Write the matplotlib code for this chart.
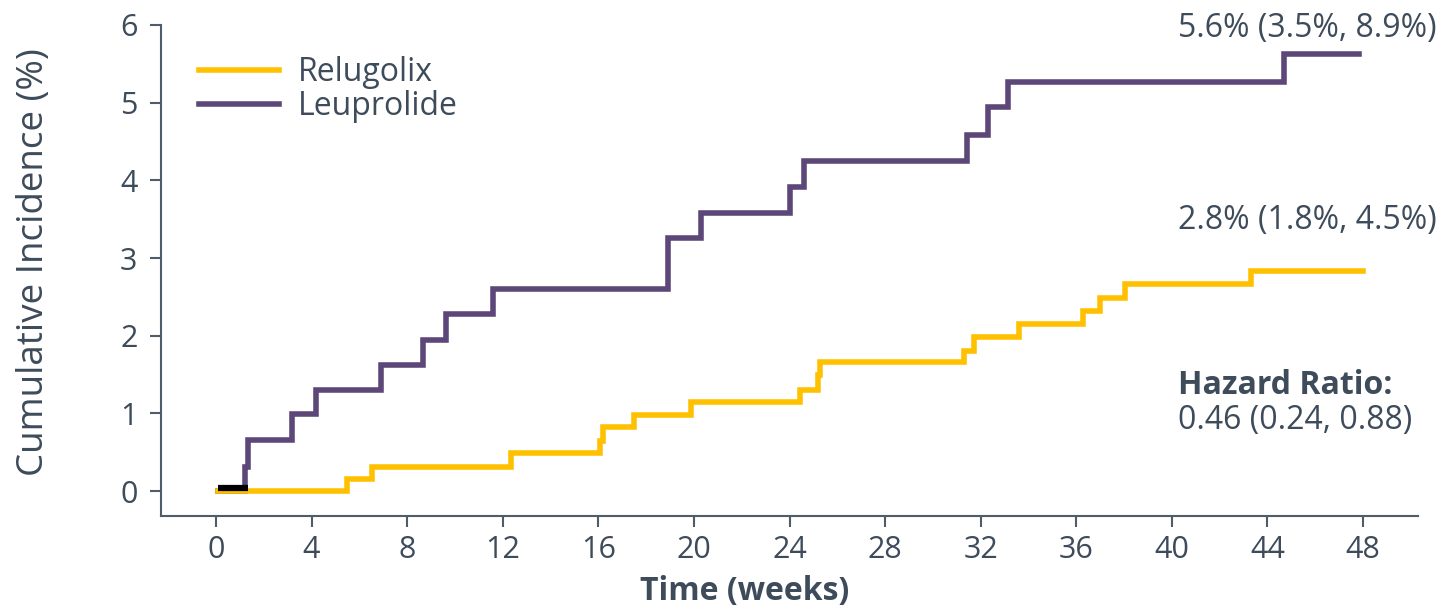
import matplotlib
matplotlib.use("Agg")
import matplotlib.pyplot as plt

plt.rcParams['font.family'] = ['Open Sans', 'DejaVu Sans']

# Data (weeks, cumulative incidence %)
leu_times = [0.1, 1.23, 1.35, 3.19, 4.19, 6.9, 8.65, 9.62, 11.59, 18.91, 20.31,
             24.01, 24.6, 31.43, 32.3, 33.14, 44.7, 47.84]
leu_values = [0, 0.31, 0.66, 0.99, 1.30, 1.62, 1.95, 2.28, 2.60, 3.26, 3.58,
              3.92, 4.25, 4.58, 4.94, 5.27, 5.63, 5.63]
rel_times = [0.1, 5.49, 6.52, 12.36, 16.06, 16.18, 17.48, 19.88, 24.43, 25.18,
             25.29, 31.3, 31.74, 33.6, 36.28, 37.0, 38.02, 43.3, 47.98]
rel_values = [0, 0.15, 0.31, 0.49, 0.65, 0.82, 0.98, 1.15, 1.30, 1.49,
              1.66, 1.80, 1.98, 2.15, 2.32, 2.49, 2.66, 2.83, 2.83]
censor_x = [0.07, 1.35]
censor_y = [0.04, 0.04]

x_ticks = [0, 4, 8, 12, 16, 20, 24, 28, 32, 36, 40, 44, 48]
y_ticks = [0, 1, 2, 3, 4, 5, 6]

YELLOW = '#FFC000'
PURPLE = '#5D4778'
TEXT = '#3D4B5A'
AXIS = '#4F5C69'

fig = plt.figure(figsize=(14.4, 6.11), dpi=100)
ax = fig.add_axes([161/1440, 1 - 516/611, (1418-161)/1440, (516-25)/611])

ax.step(leu_times, leu_values, where='post', color=PURPLE, lw=4.0, label='Leuprolide',
        solid_joinstyle='miter')
ax.step(rel_times, rel_values, where='post', color=YELLOW, lw=4.0, label='Relugolix',
        solid_joinstyle='miter')
ax.plot(censor_x, censor_y, color='black', lw=4.5, solid_capstyle='butt')

ax.set_xlim(-2.3, 50.3)
ax.set_ylim(-0.32, 6.0)
ax.set_xticks(x_ticks)
ax.set_yticks(y_ticks)
ax.spines['top'].set_visible(False)
ax.spines['right'].set_visible(False)
for s in ('left', 'bottom'):
    ax.spines[s].set_color(AXIS)
    ax.spines[s].set_linewidth(1.5)
ax.tick_params(axis='both', colors=AXIS, labelcolor=TEXT, labelsize=22,
               length=8, width=1.5, direction='out')
ax.tick_params(axis='x', pad=6)
ax.tick_params(axis='y', pad=9)

ax.set_ylabel('Cumulative Incidence (%)', fontsize=26.5, color=TEXT)
ax.yaxis.set_label_coords(-0.0867, 0.518)
ax.set_xlabel('Time (weeks)', fontsize=23, color=TEXT, fontweight='bold')
ax.xaxis.set_label_coords(0.464, -0.12)

handles, labels = ax.get_legend_handles_labels()
order = [1, 0]
leg = ax.legend([handles[i] for i in order], [labels[i] for i in order],
                loc='upper left', bbox_to_anchor=(0.0073, 0.996), frameon=False,
                fontsize=23, handlelength=2.5, handletextpad=0.6, labelspacing=0.05)
for t in leg.get_texts():
    t.set_color(TEXT)

ax.text(40.24, 5.96, '5.6% (3.5%, 8.9%)', fontsize=23, color=TEXT, ha='left', va='center')
ax.text(40.24, 3.49, '2.8% (1.8%, 4.5%)', fontsize=23, color=TEXT, ha='left', va='center')
ax.text(40.24, 1.36, 'Hazard Ratio:', fontsize=23, color=TEXT, ha='left', va='center',
        fontweight='bold')
ax.text(40.24, 0.91, '0.46 (0.24, 0.88)', fontsize=23, color=TEXT, ha='left', va='center')

fig.savefig('out.png', dpi=100)
